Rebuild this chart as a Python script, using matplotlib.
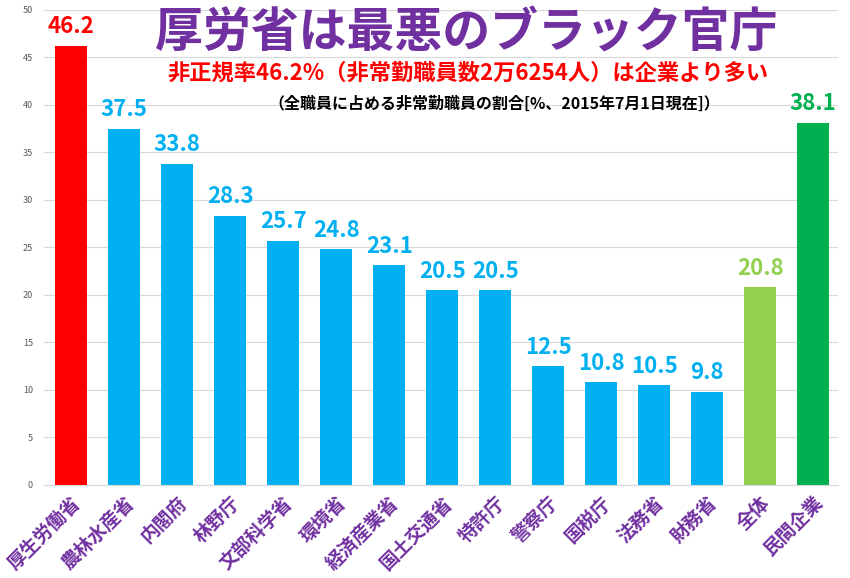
import matplotlib
matplotlib.use("Agg")
import matplotlib.pyplot as plt

plt.rcParams['font.family'] = ['Noto Sans CJK JP', 'DejaVu Sans']

# データ
categories = ['厚生労働省', '農林水産省', '内閣府', '林野庁', '文部科学省', '環境省',
              '経済産業省', '国土交通省', '特許庁', '警察庁', '国税庁', '法務省',
              '財務省', '全体', '民間企業']
values = [46.2, 37.5, 33.8, 28.3, 25.7, 24.8, 23.1, 20.5, 20.5, 12.5, 10.8, 10.5,
          9.8, 20.8, 38.1]
colors = ['#FF0000'] + ['#00B0F0'] * 12 + ['#92D050', '#00B050']
yticks = [0, 5, 10, 15, 20, 25, 30, 35, 40, 45, 50]

title = '厚労省は最悪のブラック官庁'
subtitle = '非正規率46.2%（非常勤職員数2万6254人）は企業より多い'
note = '（全職員に占める非常勤職員の割合[%、2015年7月1日現在]）'

fig = plt.figure(figsize=(8.5, 5.78), dpi=100)
ax = fig.add_axes([0.052, 0.161, 0.934, 0.822])

x = range(len(categories))
bars = ax.bar(x, values, width=0.6, color=colors, zorder=2)

# 値ラベル
for xi, v, c in zip(x, values, colors):
    ax.text(xi, v + 0.8, f'{v}', ha='center', va='bottom', color=c,
            fontsize=16, fontweight='bold')

ax.set_xlim(-0.51, len(categories) - 0.53)
ax.set_ylim(0, 50)
ax.set_yticks(yticks)
ax.tick_params(axis='y', labelsize=6.5, colors='#595959', length=0, pad=8)
ax.grid(axis='y', color='#D9D9D9', linewidth=0.8, zorder=0)
for s in ['top', 'right', 'left']:
    ax.spines[s].set_visible(False)
ax.spines['bottom'].set_color('#D9D9D9')

ax.set_xticks(list(x))
ax.set_xticklabels(categories, rotation=45, ha='right', rotation_mode='anchor',
                   fontsize=13.5, fontweight='bold', color='#7030A0')
ax.tick_params(axis='x', length=0, pad=6)

# タイトル
fig.text(0.548, 0.943, title, ha='center', va='center', fontsize=34.5,
         fontweight='bold', color='#7030A0')
fig.text(0.55, 0.873, subtitle, ha='center', va='center', fontsize=16,
         fontweight='bold', color='#FF0000')
fig.text(0.581, 0.82, note, ha='center', va='center', fontsize=11.5,
         fontweight='bold', color='#000000')

fig.savefig('out.png', dpi=100)
